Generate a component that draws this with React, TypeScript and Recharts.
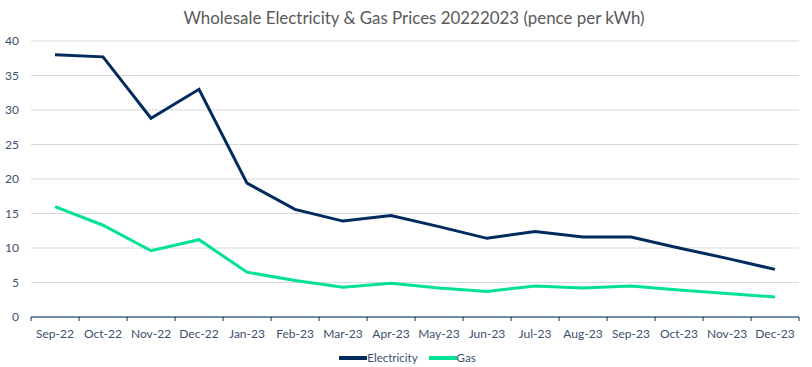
import { LineChart, Line, XAxis, YAxis, CartesianGrid, Legend } from 'recharts'

const MONTHS = [
  'Sep-22', 'Oct-22', 'Nov-22', 'Dec-22', 'Jan-23', 'Feb-23', 'Mar-23', 'Apr-23',
  'May-23', 'Jun-23', 'Jul-23', 'Aug-23', 'Sep-23', 'Oct-23', 'Nov-23', 'Dec-23',
]
const ELECTRICITY = [38.0, 37.7, 28.8, 33.0, 19.4, 15.6, 13.9, 14.7, 13.1, 11.4, 12.4, 11.6, 11.6, 10.0, 8.5, 6.9]
const GAS = [16.0, 13.3, 9.6, 11.2, 6.5, 5.3, 4.3, 4.9, 4.2, 3.7, 4.5, 4.2, 4.5, 3.9, 3.4, 2.9]
const Y_TICKS = [0, 5, 10, 15, 20, 25, 30, 35, 40]

const NAVY = '#002b5c'
const GREEN = '#00e096'
const LABEL = '#3b4f6e'
const FONT = 'Lato, Carlito, Calibri, sans-serif'
const TICK_GAP = 12

const rows = MONTHS.map((month, i) => ({ month, Electricity: ELECTRICITY[i], Gas: GAS[i] }))

// category label plus Excel-style tick marks on the band edges
function MonthTick(props: any) {
  const { x, y, payload, index } = props
  const half = payload.offset ?? 0
  const axisY = y - TICK_GAP
  const last = index === MONTHS.length - 1
  return (
    <g>
      <line x1={x - half} x2={x - half} y1={axisY} y2={axisY + 4} stroke={NAVY} />
      {last && <line x1={x + half} x2={x + half} y1={axisY} y2={axisY + 4} stroke={NAVY} />}
      <text x={x} y={y} dy="0.71em" textAnchor="middle" fontSize={12} fill={LABEL} fontFamily={FONT}>
        {payload.value}
      </text>
    </g>
  )
}

function LegendRow({ payload }: any) {
  return (
    <div style={{
      height: 28, boxSizing: 'border-box', paddingTop: 13,
      display: 'flex', justifyContent: 'center', alignItems: 'flex-start', gap: 11,
      fontSize: 11.5, lineHeight: '14px', fontFamily: FONT, color: LABEL,
    }}>
      {(payload ?? []).map((item: any) => (
        <div key={item.value} style={{ display: 'flex', alignItems: 'center' }}>
          <span style={{ display: 'inline-block', width: 28, height: 4, background: item.color }} />
          <span>{item.value}</span>
        </div>
      ))}
    </div>
  )
}

export default function App() {
  return (
    <div style={{ position: 'absolute', left: 0, top: 0, width: 812, height: 367, background: '#fff', fontFamily: FONT }}>
      <div style={{
        position: 'absolute', left: 0, top: 7, width: 828, textAlign: 'center',
        fontSize: 16.9, color: '#595959', zIndex: 1,
      }}>
        Wholesale Electricity &amp; Gas Prices 20222023 (pence per kWh)
      </div>
      <LineChart width={812} height={367} data={rows} margin={{ top: 41, right: 13, bottom: 0, left: 0 }}>
        <CartesianGrid vertical={false} stroke="#d9d9d9" />
        <XAxis
          dataKey="month"
          scale="band"
          interval={0}
          stroke={NAVY}
          tickLine={false}
          tickSize={0}
          tickMargin={TICK_GAP}
          height={22}
          tick={<MonthTick />}
        />
        <YAxis
          domain={[0, 40]}
          ticks={Y_TICKS}
          width={31}
          axisLine={false}
          tickLine={false}
          tickSize={8}
          tickMargin={4}
          tick={{ fontSize: 12, fill: LABEL, fontFamily: FONT }}
        />
        <Legend
          verticalAlign="bottom"
          content={<LegendRow />}
          wrapperStyle={{ bottom: 1, left: 8 }}
        />
        <Line type="linear" dataKey="Electricity" stroke={NAVY} strokeWidth={3} dot={false} isAnimationActive={false} />
        <Line type="linear" dataKey="Gas" stroke={GREEN} strokeWidth={3} dot={false} isAnimationActive={false} />
      </LineChart>
    </div>
  )
}
